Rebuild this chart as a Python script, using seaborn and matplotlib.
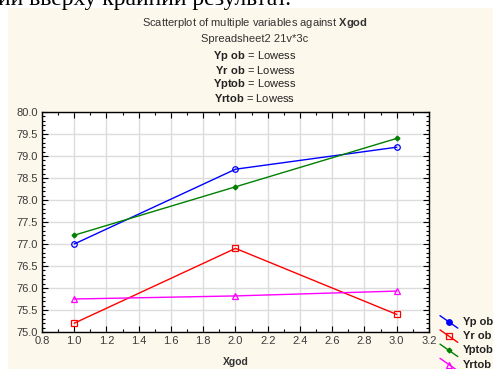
import matplotlib
matplotlib.use("Agg")
import matplotlib.pyplot as plt
import seaborn as sns
import pandas as pd
from matplotlib.lines import Line2D
from matplotlib.legend_handler import HandlerBase
from matplotlib.ticker import AutoMinorLocator
from matplotlib.patches import Rectangle

# ---- data ----
xgod = [1.0, 2.0, 3.0]
yp_ob = [77.0, 78.7, 79.2]
yr_ob = [75.2, 76.9, 75.4]
yptob = [77.2, 78.3, 79.4]
yrtob = [75.75, 75.82, 75.93]
series_names = ["Yp ob", "Yr ob", "Yptob", "Yrtob"]
series_vals = [yp_ob, yr_ob, yptob, yrtob]
colors = ["#0000FF", "#FF0000", "#008000", "#FF00FF"]
markers = ["o", "s", "D", "^"]
msizes = [4, 4, 2.5, 4]
xticks = [0.8, 1.0, 1.2, 1.4, 1.6, 1.8, 2.0, 2.2, 2.4, 2.6, 2.8, 3.0, 3.2]
yticks = [75.0, 75.5, 76.0, 76.5, 77.0, 77.5, 78.0, 78.5, 79.0, 79.5, 80.0]

sns.set_theme(style="white")
plt.rcParams['font.family'] = ['Liberation Sans', 'DejaVu Sans']
plt.rcParams['mathtext.fontset'] = 'custom'
plt.rcParams['mathtext.rm'] = 'Liberation Sans'
plt.rcParams['mathtext.bf'] = 'Liberation Sans:bold'

W, H = 493, 369
fig = plt.figure(figsize=(W / 100, H / 100), dpi=100)
fig.patch.set_facecolor("white")
bg = "#FDF8EC"
fig.patches.append(Rectangle((8 / W, 0), 1, 1 - 8 / H, transform=fig.transFigure,
                             facecolor=bg, edgecolor="none", zorder=-10))

fig.text(-2 / W, 1 - 5 / H, "ии вверху крайний результат.", family="Liberation Serif",
         fontsize=17, va="baseline", ha="left", color="black")

ax = fig.add_axes([42 / W, 1 - 332 / H, (429 - 42) / W, (332 - 112) / H])
ax.set_facecolor("white")

frames = []
for n, v in zip(series_names, series_vals):
    frames.append(pd.DataFrame({"Xgod": xgod, "val": v, "var": n}))
df = pd.concat(frames, ignore_index=True)

for n, c, m, ms in zip(series_names, colors, markers, msizes):
    sub = df[df["var"] == n]
    sns.lineplot(data=sub, x="Xgod", y="val", ax=ax, color=c, lw=1.0, marker=m,
                 markersize=ms, markerfacecolor="none" if m != "D" else c,
                 markeredgecolor=c, markeredgewidth=0.9, legend=False, zorder=3)

ax.set_xlim(0.8, 3.2)
ax.set_ylim(75.0, 80.0)
ax.set_xticks(xticks)
ax.set_yticks(yticks)
ax.set_xticklabels([f"{t:.1f}" for t in xticks])
ax.set_yticklabels([f"{t:.1f}" for t in yticks])
ax.xaxis.set_minor_locator(AutoMinorLocator(2))
ax.yaxis.set_minor_locator(AutoMinorLocator(5))
ax.tick_params(which="both", direction="in", top=True, right=True, left=True, bottom=True,
               color="black", width=0.8)
ax.tick_params(which="major", length=4, labelsize=8, labelcolor="#3a3a3a", pad=3)
ax.tick_params(which="minor", length=2)
ax.grid(True, which="major", color="#dcdcdc", lw=1.0)
ax.set_axisbelow(True)
for s in ax.spines.values():
    s.set_visible(True)
    s.set_color("black")
    s.set_linewidth(1.0)
ax.set_xlabel("Xgod", fontsize=7.5, fontweight="bold", color="#333333", labelpad=8)
ax.set_ylabel("")

# titles
tx = 255 / W
fig.text(tx, 1 - 23 / H, r"Scatterplot of multiple variables against $\mathbf{Xgod}$",
         ha="center", va="center", fontsize=8, color="#333333")
fig.text(tx, 1 - 39 / H, "Spreadsheet2 21v*3c", ha="center", va="center", fontsize=8, color="#333333")
for i, n in enumerate(series_names):
    lab = n.replace(" ", r"\ ")
    fig.text(tx, 1 - (56 + 14 * i) / H, r"$\mathbf{" + lab + r"}$ = Lowess",
             ha="center", va="center", fontsize=8, color="#222222")


class DiagHandler(HandlerBase):
    def create_artists(self, legend, orig_handle, xdescent, ydescent, width, height,
                       fontsize, trans):
        c = orig_handle.get_color()
        ln = Line2D([-xdescent, width - xdescent], [height * 1.2 - ydescent, -height * 0.4 - ydescent],
                    color=c, lw=1.0, transform=trans)
        mk = Line2D([width / 2 - xdescent], [height * 0.4 - ydescent], marker=orig_handle.get_marker(),
                    markersize=orig_handle.get_markersize(), color=c,
                    markerfacecolor=orig_handle.get_markerfacecolor(),
                    markeredgecolor=c, markeredgewidth=0.9, lw=0, transform=trans)
        return [ln, mk]


handles = [Line2D([], [], color=c, marker=m, markersize=ms,
                  markerfacecolor=c if m in ("o", "D") else "none")
           for c, m, ms in zip(colors, markers, msizes)]
leg = fig.legend(handles, series_names, loc="upper left", bbox_to_anchor=(440 / W, 1 - 317 / H),
                 frameon=False, prop={"weight": "bold", "size": 8}, labelspacing=0.38,
                 handlelength=1.6, handletextpad=0.5, borderaxespad=0, borderpad=0,
                 handler_map={Line2D: DiagHandler()})
for t in leg.get_texts():
    t.set_color("#222222")

fig.savefig("out.png", dpi=100, facecolor=fig.get_facecolor())
